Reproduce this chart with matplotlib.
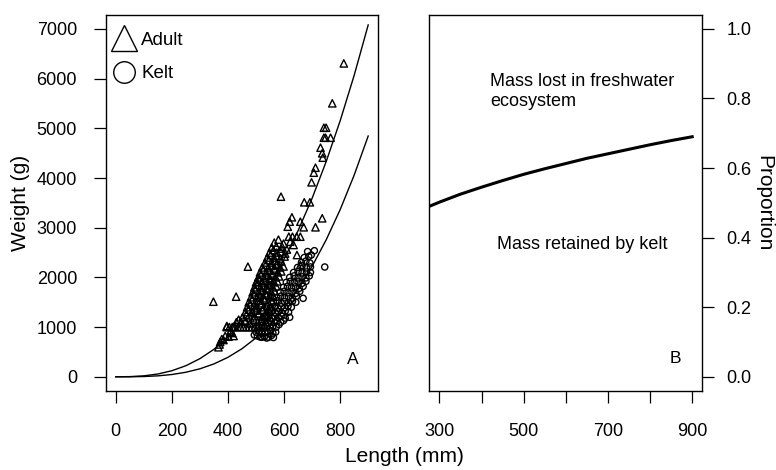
import matplotlib
matplotlib.use('Agg')
import matplotlib.pyplot as plt
from matplotlib.lines import Line2D

plt.rcParams['font.family'] = ['Liberation Sans', 'DejaVu Sans']

# adult fish (triangles): length (mm), weight (g)
adult_length = [395, 405, 415, 425, 435, 445, 455, 465, 475, 485, 495, 505, 515, 525,
                366, 370, 372, 378, 384, 390, 402, 408, 415, 420, 396, 420, 430, 438,
                348, 429, 471, 503,
                448, 462, 478, 492, 506, 520, 534,
                452, 466, 480, 494, 508, 522, 538, 550,
                462, 474, 486, 498, 510, 524, 536, 548,
                468, 480, 492, 504, 516, 528, 540, 552,
                474, 486, 498, 508, 520, 532, 544, 556,
                482, 494, 504, 514, 526, 538, 550, 562,
                488, 498, 510, 520, 532, 542, 554, 566,
                494, 504, 516, 526, 536, 548, 560, 572,
                500, 512, 522, 532, 542, 552, 564, 576,
                508, 518, 528, 538, 548, 558, 570, 582,
                514, 526, 536, 546, 556, 566, 578, 590,
                522, 534, 544, 554, 564, 574, 586, 598,
                532, 546, 556, 566, 576, 590,
                540, 552, 564, 574, 586, 602,
                548, 562, 574, 588, 604,
                556, 572, 590,
                565, 580, 598, 610, 646, 658,
                593, 622, 634, 617, 630, 645, 658, 613, 620, 628, 658, 670, 712, 736,
                672, 692, 589, 698, 706, 712, 730, 736, 738, 742, 748, 766, 742, 750,
                772, 813]
adult_weight = [1000, 1000, 1000, 1000, 1000, 1000, 1000, 1000, 1000, 1000, 1000, 1000, 1000, 1000,
                594, 650, 700, 760, 740, 820, 807, 907, 880, 821, 1022, 1008, 1100, 1150,
                1511, 1612, 2216, 1914,
                1100, 1120, 1080, 1150, 1100, 1130, 1100,
                1200, 1250, 1180, 1220, 1260, 1200, 1230, 1180,
                1300, 1350, 1300, 1330, 1280, 1350, 1300, 1320,
                1400, 1450, 1420, 1380, 1450, 1400, 1430, 1400,
                1500, 1550, 1500, 1530, 1480, 1550, 1500, 1520,
                1600, 1650, 1600, 1620, 1580, 1650, 1600, 1620,
                1700, 1750, 1700, 1730, 1680, 1750, 1700, 1720,
                1800, 1850, 1800, 1830, 1780, 1850, 1800, 1820,
                1900, 1950, 1900, 1930, 1880, 1950, 1900, 1920,
                2000, 2050, 2000, 2030, 1980, 2050, 2000, 2020,
                2100, 2150, 2100, 2130, 2080, 2150, 2100, 2120,
                2200, 2250, 2200, 2230, 2180, 2250, 2200, 2220,
                2300, 2350, 2300, 2330, 2280, 2320,
                2400, 2450, 2400, 2430, 2380, 2420,
                2500, 2550, 2500, 2520, 2480,
                2600, 2620, 2580,
                2700, 2760, 2680, 2560, 2450, 2250,
                2618, 2718, 2652, 2819, 2819, 2819, 2819, 3020, 3121, 3209, 3121, 3008, 3008, 3189,
                3511, 3511, 3624, 3913, 4107, 4207, 4610, 4497, 4409, 4811, 4811, 4811, 5012, 5012,
                5503, 6306]

# kelts (circles): length (mm), weight (g)
kelt_length = [494, 505, 515, 521, 530, 538, 545, 555, 562,
               500, 512, 522, 532, 542, 552, 560, 570,
               508, 520, 530, 540, 550, 560, 572, 582,
               520, 532, 544, 554, 566, 576, 588, 598,
               530, 544, 556, 568, 580, 592, 604, 620,
               542, 556, 568, 580, 592, 604, 616,
               552, 566, 578, 590, 602, 614, 626,
               562, 576, 590, 602, 616, 630, 642,
               574, 588, 602, 616, 630, 644, 668,
               586, 600, 614, 628, 642, 656,
               598, 612, 626, 640, 654, 668,
               608, 622, 636, 650, 664, 678,
               620, 636, 650, 664, 678, 690,
               634, 650, 664, 680, 694,
               648, 664, 680, 694, 745,
               662, 678, 692,
               672, 688, 697,
               684, 708]
kelt_weight = [841, 820, 800, 795, 810, 780, 795, 830, 790,
               900, 920, 880, 910, 900, 930, 880, 900,
               1000, 1030, 980, 1010, 990, 1020, 1000, 1050,
               1100, 1120, 1080, 1110, 1090, 1120, 1100, 1130,
               1200, 1230, 1180, 1210, 1190, 1220, 1180, 1197,
               1300, 1330, 1290, 1310, 1280, 1320, 1300,
               1400, 1420, 1380, 1410, 1390, 1420, 1400,
               1500, 1530, 1480, 1510, 1490, 1520, 1500,
               1600, 1620, 1590, 1610, 1580, 1620, 1579,
               1700, 1720, 1690, 1710, 1680, 1720,
               1800, 1820, 1790, 1810, 1780, 1820,
               1900, 1920, 1890, 1910, 1880, 1920,
               2000, 2030, 1990, 2010, 1990, 2030,
               2100, 2120, 2090, 2110, 2100,
               2200, 2230, 2190, 2210, 2209,
               2300, 2330, 2290,
               2400, 2420, 2450,
               2520, 2537]

# fitted length-weight curves
curve_length = [0, 50, 100, 150, 200, 250, 300, 350, 400, 450,
                500, 550, 600, 650, 700, 750, 800, 850, 900]
adult_curve = [0, 2.9, 18.8, 56, 122, 223, 365, 553, 793, 1090,
               1448, 1873, 2369, 2941, 3592, 4328, 5151, 6067, 7080]
kelt_curve = [0, 0.6, 5.3, 18.7, 45.7, 91.4, 160.8, 259, 392, 565,
              783, 1052, 1378, 1767, 2223, 2754, 3363, 4058, 4845]

# panel B: proportion of mass retained by kelt
prop_length = [276, 300, 350, 400, 450, 500, 550, 600, 650, 700, 750, 800, 850, 900]
prop_retained = [0.490, 0.502, 0.525, 0.545, 0.564, 0.582, 0.598, 0.613,
                 0.628, 0.641, 0.654, 0.667, 0.679, 0.690]

W, H = 776, 470
fig = plt.figure(figsize=(W / 100, H / 100), dpi=100)

tick_kw = dict(direction='out', length=8.6, width=0.9, labelsize=13)

# ---- panel A
axA = fig.add_axes([105.7 / W, 1 - 390.7 / H, 272.6 / W, 375.7 / H])
axA.scatter(adult_length, adult_weight, marker='^', s=28, facecolors='none',
            edgecolors='black', linewidths=1.0)
axA.scatter(kelt_length, kelt_weight, marker='o', s=20, facecolors='none',
            edgecolors='black', linewidths=1.0)
axA.plot(curve_length, adult_curve, color='black', lw=1)
axA.plot(curve_length, kelt_curve, color='black', lw=1)
axA.set_xlim(-36, 936)
axA.set_ylim(-280, 7280)
axA.set_xticks([0, 200, 400, 600, 800])
axA.set_yticks(range(0, 7001, 1000))
axA.tick_params(axis='x', pad=15, **tick_kw)
axA.tick_params(axis='y', pad=12, **tick_kw)
axA.text(844, 338, 'A', fontsize=12.5, ha='center', va='center')
handles = [Line2D([], [], marker='^', ls='none', mfc='none', mec='black', ms=19, mew=1),
           Line2D([], [], marker='o', ls='none', mfc='none', mec='black', ms=15.5, mew=1)]
axA.legend(handles, ['Adult', 'Kelt'], loc='upper left', bbox_to_anchor=(0.0, 0.97),
           frameon=False, fontsize=13.5, handlelength=1.3, handletextpad=0.3,
           labelspacing=0.85, borderaxespad=0.0, borderpad=0.3)

# ---- panel B
axB = fig.add_axes([429.3 / W, 1 - 390.7 / H, 273.0 / W, 375.7 / H])
axB.plot(prop_length, prop_retained, color='black', lw=2.2)
axB.set_xlim(276, 924)
axB.set_ylim(-0.04, 1.04)
axB.set_xticks(range(300, 901, 100))
axB.set_xticklabels(['300', '', '500', '', '700', '', '900'])
axB.set_yticks([0.0, 0.2, 0.4, 0.6, 0.8, 1.0])
axB.set_yticklabels(['0.0', '0.2', '0.4', '0.6', '0.8', '1.0'])
axB.yaxis.tick_right()
axB.tick_params(axis='x', pad=15, **tick_kw)
axB.tick_params(axis='y', pad=9, **tick_kw)
axB.text(421, 0.82, 'Mass lost in freshwater\necosystem', fontsize=13,
         ha='left', va='center', linespacing=1.2)
axB.text(639, 0.379, 'Mass retained by kelt', fontsize=13, ha='center', va='center')
axB.text(859, 0.054, 'B', fontsize=12.5, ha='center', va='center')

for ax in (axA, axB):
    for sp in ax.spines.values():
        sp.set_linewidth(1.0)

fig.text(21 / W, 1 - 203 / H, 'Weight (g)', rotation=90, ha='center', va='center', fontsize=15)
fig.text(764 / W, 1 - 203 / H, 'Proportion', rotation=270, ha='center', va='center', fontsize=15)
fig.text(404 / W, 1 - 456 / H, 'Length (mm)', ha='center', va='center', fontsize=15)

fig.savefig('out.png', dpi=100)
